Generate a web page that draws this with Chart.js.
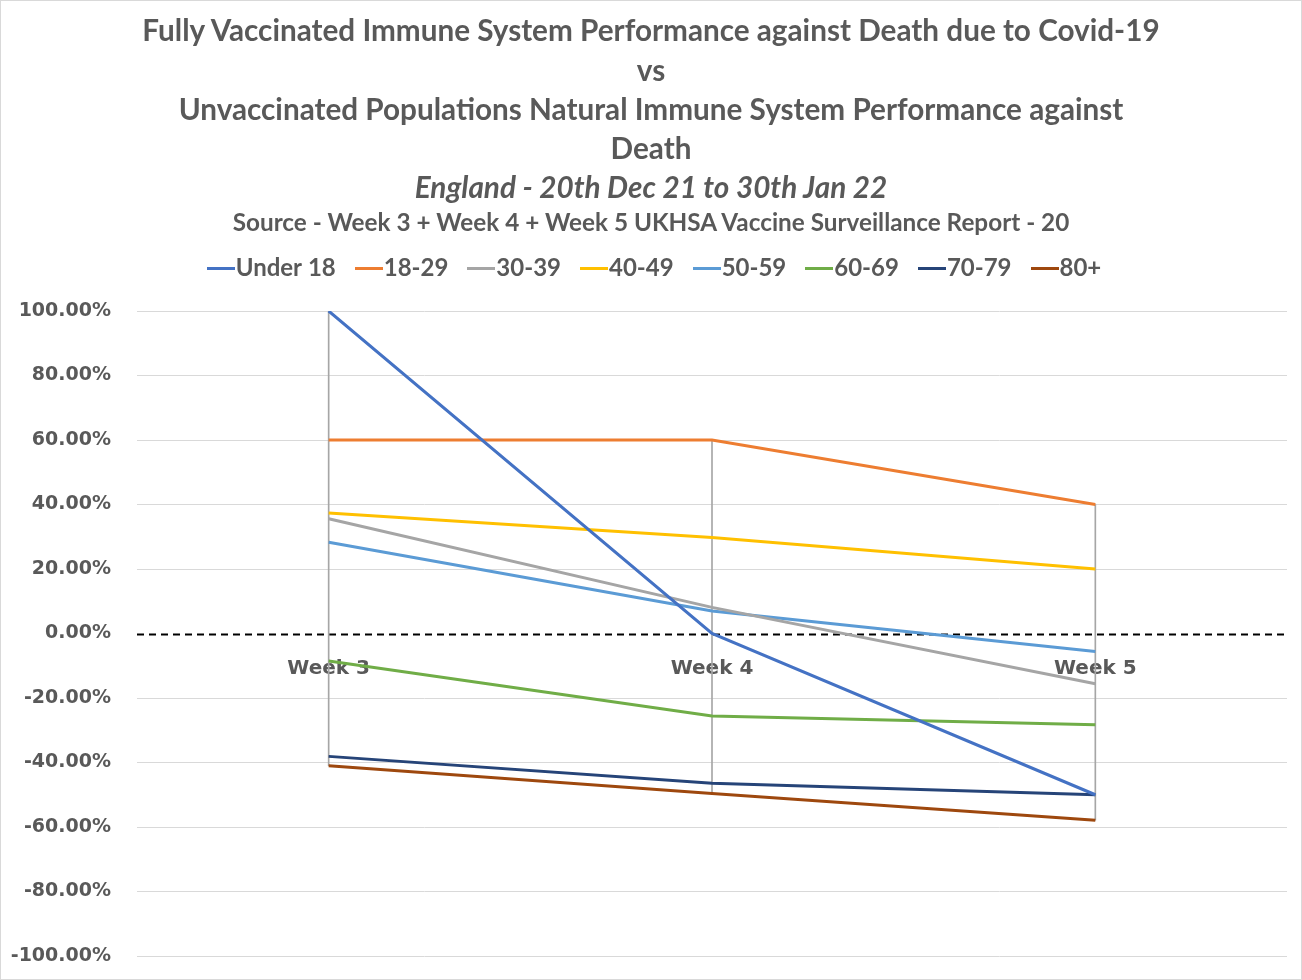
<!DOCTYPE html>
<html>
<head>
<meta charset="utf-8">
<script src="https://cdn.jsdelivr.net/npm/chart.js@4.4.1/dist/chart.umd.min.js"></script>
<style>
  html, body { margin: 0; padding: 0; background: #fff; overflow: hidden; }
  #wrap { position: relative; width: 1302px; height: 980px; }
  #frame { position: absolute; left: 0; top: 0; width: 1300px; height: 978px; border: 1px solid #d9d9d9; pointer-events: none; }
  .t { position: absolute; left: 0; width: 1302px; text-align: center; color: #595959;
       font-family: Lato, "Noto Sans", sans-serif; font-weight: bold; white-space: nowrap; }
  .big { font-size: 29.7px; line-height: 39px; }
  .it { font-style: italic; }
  .src { font-size: 24.3px; line-height: 30px; top: 207px; }
</style>
</head>
<body>
<div id="wrap">
  <canvas id="chart"></canvas>
  <div class="t big" style="top:10px">Fully Vaccinated Immune System Performance against Death due to Covid-19</div>
  <div class="t big" style="top:50px">vs</div>
  <div class="t big" style="top:89px">Unvaccinated Populations Natural Immune System Performance against</div>
  <div class="t big" style="top:128px">Death</div>
  <div class="t big it" style="top:167px">England - 20th Dec 21 to 30th Jan 22</div>
  <div class="t src">Source - Week 3 + Week 4 + Week 5 UKHSA Vaccine Surveillance Report - 20</div>
  <div id="frame"></div>
</div>
<script>
const weeks = ['Week 3', 'Week 4', 'Week 5'];
const seriesNames = ['Under 18', '18-29', '30-39', '40-49', '50-59', '60-69', '70-79', '80+'];
const under18 = [100, 0, -50];
const age18to29 = [60, 60, 40];
const age30to39 = [35.6, 8.1, -15.6];
const age40to49 = [37.4, 29.8, 20];
const age50to59 = [28.3, 7.0, -5.6];
const age60to69 = [-8.5, -25.6, -28.3];
const age70to79 = [-38.1, -46.4, -50];
const age80plus = [-41.0, -49.6, -57.9];
const yTicks = [-100, -80, -60, -40, -20, 0, 20, 40, 60, 80, 100];

const seriesValues = [under18, age18to29, age30to39, age40to49, age50to59, age60to69, age70to79, age80plus];
const colors = ['#4472C4', '#ED7D31', '#A5A5A5', '#FFC000', '#5B9BD5', '#70AD47', '#264478', '#9E480E'];

// high-low lines: min..max of all series at each week
const highLow = weeks.map((w, i) => {
  const vals = seriesValues.map((s) => s[i]);
  return [Math.min(...vals), Math.max(...vals)];
});

// short line swatch for the legend
function swatch(color) {
  const c = document.createElement('canvas');
  c.width = 28;
  c.height = 3;
  const g = c.getContext('2d');
  g.fillStyle = color;
  g.fillRect(0, 0, 28, 3);
  return c;
}

const axisFont = { family: '"DejaVu Sans", sans-serif', weight: 'bold', size: 19 };
const labelFont = { family: '"DejaVu Sans", sans-serif', weight: 'bold', size: 20 };
const gray = '#595959';

const datasets = seriesValues.map((vals, i) => ({
  type: 'line',
  label: seriesNames[i],
  data: vals,
  borderColor: colors[i],
  backgroundColor: colors[i],
  borderWidth: 3,
  pointRadius: 0,
  pointStyle: swatch(colors[i]),
  tension: 0,
  order: 1,
}));
datasets.push({
  type: 'bar',
  label: 'hilo',
  data: highLow,
  backgroundColor: '#a6a6a6',
  barThickness: 1,
  order: 10,
});

const legendTweak = {
  id: 'legendTweak',
  beforeInit(chart) {
    const fit = chart.legend.fit;
    chart.legend.fit = function () {
      fit.bind(chart.legend)();
      this.height += 21;
    };
  },
  afterLayout(chart) {
    chart.legend.left += 16;
    chart.legend.right += 16;
  },
};

// dashed line at 0 across the plot
const zeroLine = {
  id: 'zeroLine',
  beforeDatasetsDraw(chart) {
    const { ctx, chartArea, scales } = chart;
    const y = Math.round(scales.y.getPixelForValue(0)) + 0.5;
    ctx.save();
    ctx.strokeStyle = '#000';
    ctx.lineWidth = 2;
    ctx.setLineDash([7, 5]);
    ctx.beginPath();
    ctx.moveTo(chartArea.left, y);
    ctx.lineTo(chartArea.right, y);
    ctx.stroke();
    ctx.restore();
  },
};

/* global Chart */
new Chart(document.getElementById('chart'), {
  type: 'line',
  data: { labels: weeks, datasets },
  plugins: [legendTweak, zeroLine],
  options: {
    responsive: true,
    maintainAspectRatio: false,
    animation: false,
    layout: { padding: { top: 226, right: 15, left: 0, bottom: 24 } },
    plugins: {
      tooltip: { enabled: false },
      legend: {
        position: 'top',
        labels: {
          filter: (item) => item.text !== 'hilo',
          usePointStyle: true,
          pointStyleWidth: 6,
          color: gray,
          padding: 30,
          font: { family: 'Lato, sans-serif', weight: 'bold', size: 24 },
        },
      },
    },
    scales: {
      x: {
        position: { y: 0 },
        offset: true,
        afterFit: (scale) => { scale.height = 0; },
        grid: { display: false, drawTicks: false },
        border: { display: false },
        ticks: { color: gray, font: labelFont, padding: 23 },
      },
      y: {
        min: -100,
        max: 100,
        afterBuildTicks: (scale) => { scale.ticks = yTicks.map((v) => ({ value: v })); },
        afterFit: (scale) => { scale.width = 137; },
        grid: {
          color: (ctx) => (ctx.tick && ctx.tick.value === 0 ? 'rgba(0,0,0,0)' : '#d9d9d9'),
          drawTicks: true,
          tickLength: 24,
          tickColor: 'rgba(0,0,0,0)',
        },
        border: { display: false },
        ticks: {
          color: gray,
          font: axisFont,
          padding: 2,
          callback: (v) => v.toFixed(2) + '%',
        },
      },
    },
  },
});
</script>
</body>
</html>
